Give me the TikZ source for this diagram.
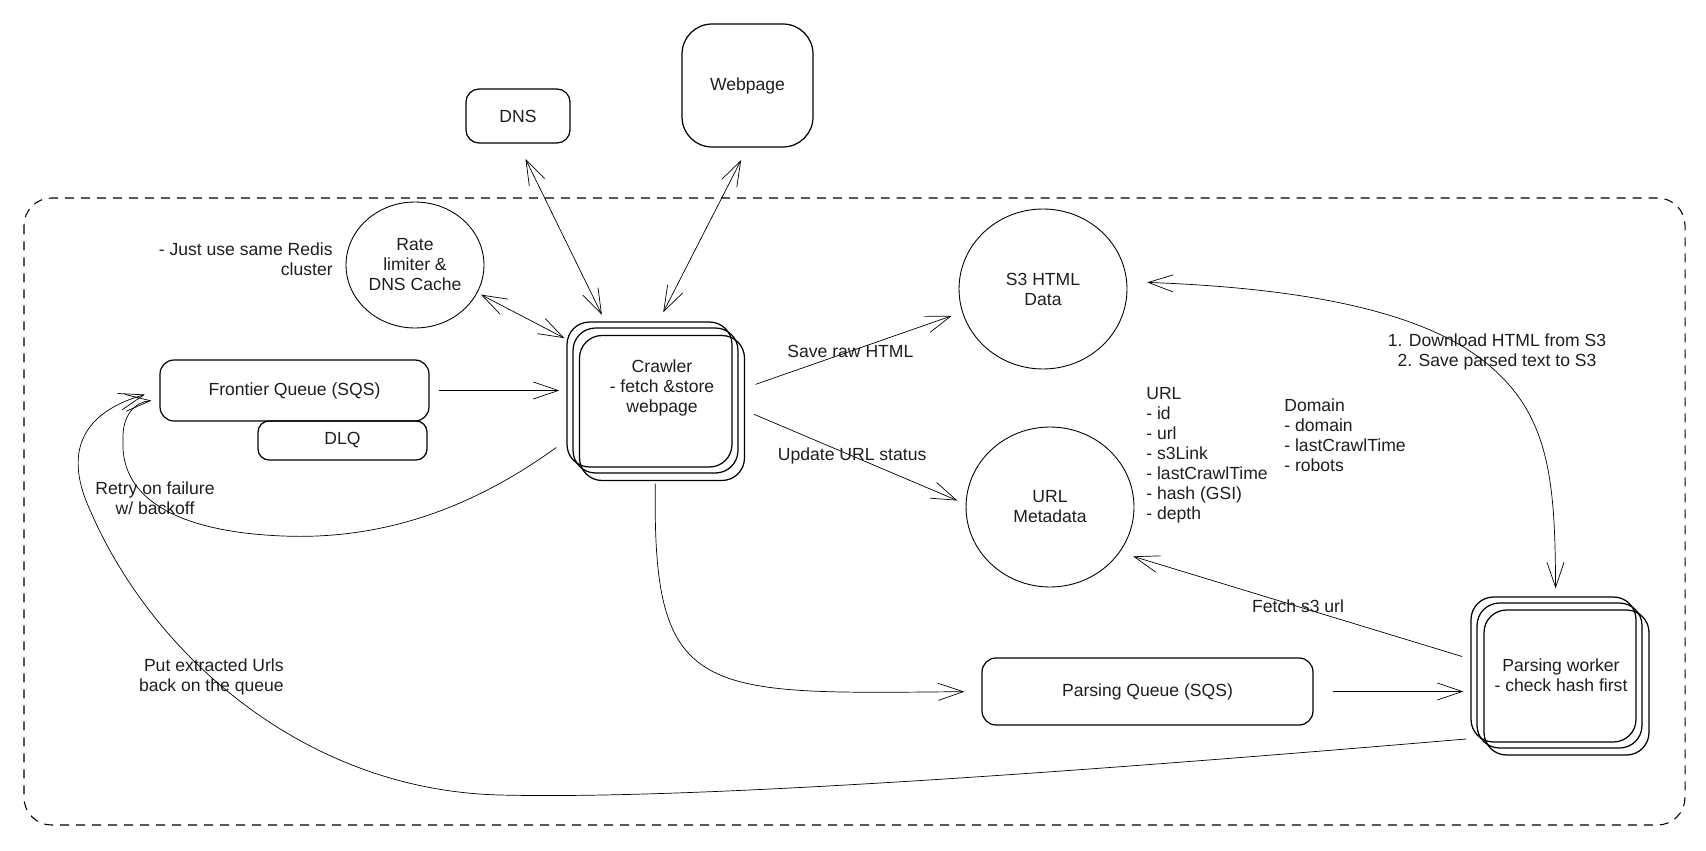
\documentclass[tikz,border=0pt]{standalone}
\usepackage{fontspec}
\setmainfont{Liberation Sans}
\usepackage{xcolor}
\definecolor{ink}{HTML}{1E1E1E}
\usetikzlibrary{arrows.meta,shapes.geometric}
\tikzset{
    -{Straight Barb[length=0.5cm,width=0.34cm]}, x=0.02cm, y=-0.02cm, line width=0.55pt, ink,
    every node/.style={font=\fontsize{10}{11.4}\selectfont},
    box/.style={draw, rectangle, rounded corners=0.28cm, line width=0.7pt, align=center},
    worker/.style={box, rounded corners=0.45cm, minimum width=3.3cm, minimum height=2.9cm},
    state/.style={ellipse, draw, line width=0.5pt, align=center, minimum width=3.36cm, minimum height=3.2cm},
    bidirected/.style={{Straight Barb[length=0.5cm,width=0.34cm]}-{Straight Barb[length=0.5cm,width=0.34cm]}},
    el/.style={inner sep=2pt},
    cluster/.style={-, dashed, dash pattern=on 0.18cm off 0.14cm, rounded corners=0.55cm, line width=0.6pt},
    note/.style={align=left, inner sep=0pt}
}
\begin{document}
\begin{tikzpicture}
  \useasboundingbox (0,0) rectangle (1706,851);
  \draw[cluster] (24,198) rectangle (1685,825);

  \node[box, rounded corners=0.26cm, minimum width=2.08cm, minimum height=1.08cm] (DNS) at (518,116) {DNS};
  \node[box, rounded corners=0.6cm, minimum width=2.62cm, minimum height=2.46cm] (Web) at (747.5,85.5) {Webpage};
  \node[state, inner sep=1pt, minimum width=2.76cm, minimum height=2.52cm] (Rate) at (415,265) {Rate\\limiter \&\\DNS Cache};
  \node[note, align=right, anchor=east] (RedisNote) at (333,259) {- Just use same Redis\\cluster};
  \node[box, minimum width=5.38cm, minimum height=1.22cm] (Frontier) at (294.5,390.5) {Frontier Queue (SQS)};
  \node[box, rounded corners=0.22cm, minimum width=3.38cm, minimum height=0.78cm] (DLQ) at (342.5,440.5) {DLQ};

  % crawler drawn as a stack
  \node[worker] (CrawlerA) at (649.5,394.5) {};
  \node[worker] (Crawler) at (655.5,400.5) {};
  \node[worker] (CrawlerC) at (662,408) {};
  \node[align=center] (CrawlerTxt) at (662,388) {Crawler\\- fetch \&store\\webpage};

  \node[state] (S3) at (1043,289) {S3 HTML\\Data};
  \node[state] (Meta) at (1050,507) {URL\\Metadata};
  \node[note, anchor=north west] (URLList) at (1146,387) {URL\\- id\\- url\\- s3Link\\- lastCrawlTime\\- hash (GSI)\\- depth};
  \node[note, anchor=north west] (DomainList) at (1284,398) {Domain\\- domain\\- lastCrawlTime\\- robots};

  \node[box, minimum width=6.62cm, minimum height=1.34cm] (PQ) at (1147.5,691.5) {Parsing Queue (SQS)};
  % parsing worker drawn as a stack
  \node[worker] (WorkerA) at (1553.5,669.5) {};
  \node[worker] (Worker) at (1559.5,675.5) {};
  \node[worker] (WorkerC) at (1566.5,682.5) {};
  \node[align=center] (WorkerTxt) at (1561,675) {Parsing worker\\- check hash first};

  \node[align=center] (RetryLbl) at (155,498) {Retry on failure\\w/ backoff};
  \node[note, align=right, anchor=east] (PutLbl) at (284,677) {Put extracted Urls\\back on the queue};
  \node[align=center] (S3Lbl) at (1497,352) {1. Download HTML from S3\\2. Save parsed text to S3};

  \path[bidirected, shorten <=0.34cm, shorten >=0.28cm] (DNS.south) edge (Crawler.123);
  \path[bidirected, shorten <=0.28cm, shorten >=0.34cm] (Web.south) edge (Crawler.north);
  \path[bidirected, shorten <=0.08cm, shorten >=0.18cm] (Rate.-24) edge (Crawler.145);
  \path[shorten <=0.18cm, shorten >=0.26cm] (Frontier.east) edge (Frontier.east -| Crawler.west);
  \path[shorten <=0.36cm, shorten >=0.22cm] (Crawler.7) edge node[el] (SaveLbl) {Save raw HTML} (S3.196);
  \path[shorten <=0.34cm, shorten >=0.18cm] (Crawler.-5) edge node[el] (UpdateLbl) {Update URL status} (Meta.178);
  \path[shorten <=0.38cm, shorten >=0.26cm] (PQ.east) edge (PQ.east -| Worker.west);
  \path[shorten <=0.3cm, shorten >=0.28cm] (Worker.170) edge node[el] (FetchLbl) {Fetch s3 url} (Meta.-33);

  \draw[shorten <=0.2cm, shorten >=0.34cm] (Crawler.south) .. controls (652,700) and (700,694) .. (PQ.west);
  \draw[bidirected, shorten <=0.4cm, shorten >=0.28cm] (S3.5) .. controls (1300,288) and (1420,310) .. (1485,362)
      .. controls (1550,414) and (1555,480) .. (Worker.93);
  % retry on failure
  \draw[shorten <=0.4cm, shorten >=0.16cm] (Crawler.203) .. controls (470,510) and (380,540) .. (283,536)
      .. controls (180,532) and (120,500) .. (123,440) .. controls (122,415) and (135,402) .. (Frontier.184);
  % back on the queue
  \draw[shorten <=0.2cm, shorten >=0.3cm] (Worker.217) .. controls (1100,770) and (700,800) .. (500,795)
      .. controls (300,790) and (150,650) .. (90,510) .. controls (60,445) and (90,410) .. (Frontier.west);
\end{tikzpicture}
\end{document}
